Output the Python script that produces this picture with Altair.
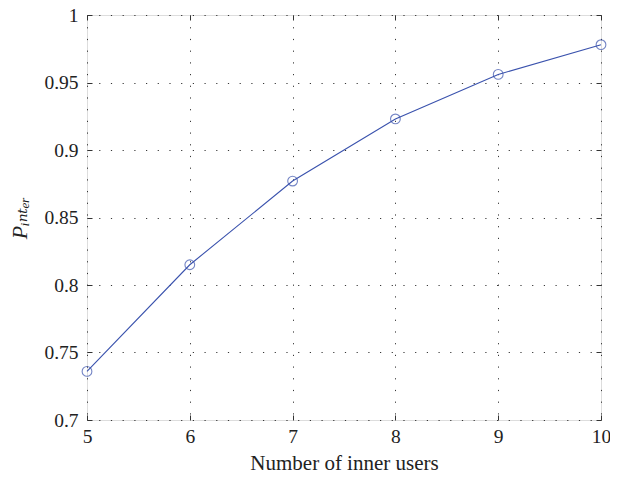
import altair as alt
import pandas as pd

users = [5, 6, 7, 8, 9, 10]
p_inter = [0.736, 0.815, 0.877, 0.923, 0.956, 0.978]
x_ticks = [5, 6, 7, 8, 9, 10]
y_ticks = [0.7, 0.75, 0.8, 0.85, 0.9, 0.95, 1.0]

df = pd.DataFrame({"users": users, "p": p_inter})

FONT = "'Liberation Serif', 'Times New Roman', 'DejaVu Serif', serif"
BLUE = "#3a52ad"

xscale = alt.Scale(domain=[5, 10], nice=False, zero=False)
yscale = alt.Scale(domain=[0.7, 1.0], nice=False, zero=False)

grid_common = dict(
    grid=True, gridColor="#222", gridDash=[1.2, 10.5], gridWidth=1, gridOpacity=0.9,
)

x_main = alt.X("users:Q", scale=xscale, title="Number of inner users",
               axis=alt.Axis(orient="bottom", values=x_ticks, offset=-5, tickSize=5,
                             tickColor="#333", domain=False, labelPadding=7,
                             labelFlush=False,
                             labelFont=FONT, labelFontSize=19.5, labelColor="#222",
                             titleFont=FONT, titleFontSize=21, titleFontWeight="normal",
                             titleColor="#222", titlePadding=7, **grid_common))
y_main = alt.Y("p:Q", scale=yscale, title="Pᵢₙₜₑᵣ",
               axis=alt.Axis(orient="left", values=y_ticks, format=".2~f", offset=-5,
                             tickSize=5, tickColor="#333", domain=False, labelPadding=9,
                             labelFlush=False,
                             labelFont=FONT, labelFontSize=19.5, labelColor="#222",
                             titleFont=FONT, titleFontSize=22, titleFontWeight="normal",
                             titleFontStyle="italic",
                             titleColor="#222", titlePadding=12, **grid_common))

line = alt.Chart(df).mark_line(color=BLUE, strokeWidth=1.1).encode(x=x_main, y=y_main)

x_top = alt.X("users:Q", scale=xscale, title=None,
              axis=alt.Axis(orient="top", values=x_ticks, offset=-5, tickSize=5,
                            tickColor="#333", domain=False, labels=False, grid=False))
y_right = alt.Y("p:Q", scale=yscale, title=None,
                axis=alt.Axis(orient="right", values=y_ticks, offset=-5, tickSize=5,
                              tickColor="#333", domain=False, labels=False, grid=False))

points = alt.Chart(df).mark_point(shape="circle", filled=False, color=BLUE, size=95,
                                  strokeWidth=1.1).encode(x=x_top, y=y_right)

chart = alt.layer(line, points).resolve_axis(x="independent", y="independent").properties(
    width=514, height=405,
    autosize=alt.AutoSizeParams(type="none"),
    padding={"left": 79, "top": 7, "right": 9, "bottom": 55},
).configure_view(stroke="#333", strokeWidth=1.3).configure(background="white")

chart.save("out.html", embed_options={"renderer": "svg", "actions": False})
